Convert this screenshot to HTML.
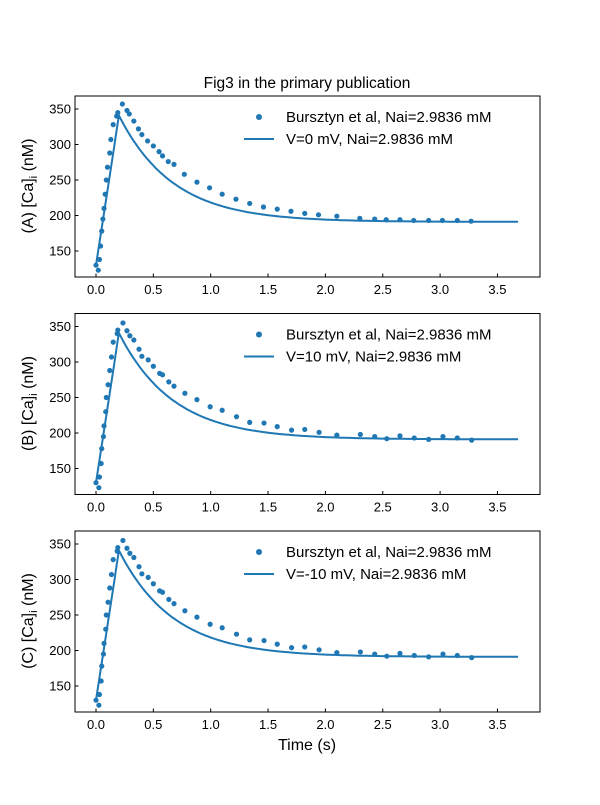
<!DOCTYPE html><html><head><style>body{margin:0;background:#fff}svg text{font-family:"Liberation Sans","DejaVu Sans",sans-serif}</style></head><body>
<svg id="s" width="600" height="800" xmlns="http://www.w3.org/2000/svg"></svg>
<script>
const s=document.getElementById('s');let h='';
const X=t=>96+t*114.7;
const d1=[[0,130],[0.02,123],[0.03,138],[0.04,157],[0.05,178],[0.06,195],[0.07,210],[0.08,230],[0.09,250],[0.1,268],[0.12,288],[0.13,307],[0.15,328],[0.18,340],[0.19,345],[0.23,357],[0.27,348],[0.29,343],[0.33,333],[0.37,322],[0.4,314],[0.45,305],[0.5,298],[0.55,290],[0.58,284],[0.63,276],[0.68,272],[0.77,258],[0.88,247],[0.99,239],[1.1,230],[1.22,223],[1.34,217],[1.46,212],[1.58,209],[1.7,206],[1.82,203],[1.94,201],[2.1,199],[2.3,196],[2.43,195],[2.53,194],[2.65,194],[2.77,193],[2.9,193],[3.02,193],[3.15,193],[3.27,192]];
const labels=['(A)','(B)','(C)'],vs=['V=0 mV','V=10 mV','V=-10 mV'];
h+='<text x="307" y="88" font-size="15.5" text-anchor="middle">Fig3 in the primary publication</text>';
for(let p=0;p<3;p++){const o=p*217.5;const Y=v=>o+109+(350-v)*0.71;
h+=`<rect x="75" y="${96+o}" width="465" height="181" fill="none" stroke="#000" stroke-width="1"/>`;
for(let i=0;i<=7;i++){const x=X(i*0.5);h+=`<line x1="${x}" x2="${x}" y1="${277+o}" y2="${273.5+o}" stroke="#000"/><text x="${x}" y="${294+o}" font-size="13" text-anchor="middle">${(i*0.5).toFixed(1)}</text>`;}
for(let v=150;v<=350;v+=50){const y=Y(v);h+=`<line x1="75" x2="78.5" y1="${y}" y2="${y}" stroke="#000"/><text x="71" y="${y+4.5}" font-size="13" text-anchor="end">${v}</text>`;}
h+=`<text transform="translate(33,${186+o}) rotate(-90)" font-size="16" text-anchor="middle">${labels[p]} [Ca]<tspan font-size="11" dy="4">i</tspan><tspan dy="-4"> (nM)</tspan></text>`;
let pts=[];for(let t=0;t<=0.2;t+=0.02)pts.push([t,130+t/0.2*211]);for(let t=0.2;t<=3.7;t+=0.02)pts.push([t,191+150*Math.exp(-(t-0.2)/0.47)]);
h+=`<polyline fill="none" stroke="#1f77b4" stroke-width="2" points="${pts.map(q=>X(q[0]).toFixed(1)+','+Y(q[1]).toFixed(1)).join(' ')}"/>`;
d1.forEach((q,i)=>{let v=q[1];if(p>0&&q[0]>0.2)v=v-(i%3-1)*2-(q[0]<0.8?4:0);h+=`<circle cx="${X(q[0]+(p?0.005*(i%2):0))}" cy="${Y(v)}" r="2.6" fill="#1f77b4"/>`;});
h+=`<circle cx="259" cy="${117+o}" r="3" fill="#1f77b4"/><text x="286" y="${122+o}" font-size="15">Bursztyn et al, Nai=2.9836 mM</text>`;
h+=`<line x1="244" x2="274" y1="${139+o}" y2="${139+o}" stroke="#1f77b4" stroke-width="2"/><text x="286" y="${144+o}" font-size="15">${vs[p]}, Nai=2.9836 mM</text>`;}
h+='<text x="307" y="750" font-size="16" text-anchor="middle">Time (s)</text>';
s.innerHTML=h;
</script></body></html>
